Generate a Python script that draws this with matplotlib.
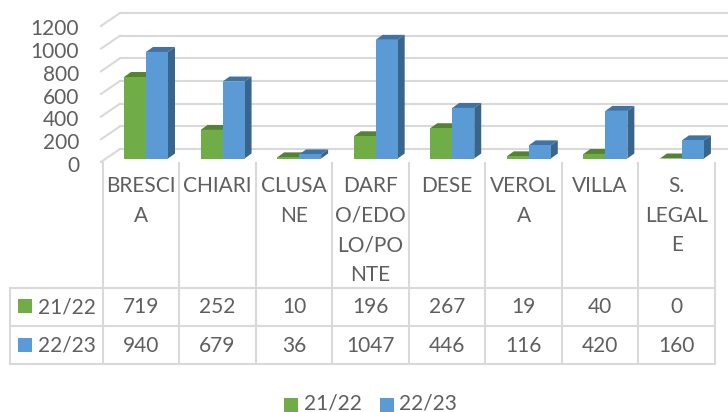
import matplotlib
matplotlib.use("Agg")
import matplotlib.pyplot as plt
from matplotlib.patches import Polygon, Rectangle

plt.rcParams['font.family'] = ['Lato', 'DejaVu Sans']

# data
categories = ["BRESCI\nA", "CHIARI", "CLUSA\nNE", "DARF\nO/EDO\nLO/PO\nNTE", "DESE", "VEROL\nA", "VILLA", "S.\nLEGAL\nE"]
series_names = ["21/22", "22/23"]
values_2122 = [719, 252, 10, 196, 267, 19, 40, 0]
values_2223 = [940, 679, 36, 1047, 446, 116, 420, 160]
y_ticks = [0, 200, 400, 600, 800, 1000, 1200]

W, H = 728, 412
GREEN, GREEN_TOP = "#70AD47", "#558235"
BLUE, BLUE_TOP, BLUE_SIDE = "#5B9BD5", "#3F73A3", "#38658C"
GRID = "#D9D9D9"
TXT = "#5F5F5F"
FS = 15

fig = plt.figure(figsize=(W / 100, H / 100), dpi=100)

# bars axes: x in categories, y in values
left, right, base, top = 102.5, 715.0, 158.5, 22.5
ax = fig.add_axes([left / W, 1 - base / H, (right - left) / W, (base - top) / H])
ax.set_xlim(0, len(categories))
ax.set_ylim(0, 1200)
ax.axis("off")

px_x = len(categories) / (right - left)
px_y = 1200 / (base - top)
bar_w = 22 * px_x
dx, dy = 7 * px_x, 5 * px_y

# back wall lines and the diagonal floor ticks
for v in y_ticks:
    yb = v + 9.5 * px_y
    yf = yb - 13 * px_y
    xb = 17.5 * px_x
    ax.plot([xb, (W - left) * px_x], [yb, yb], color=GRID, lw=1.5, clip_on=False, zorder=1)
    ax.plot([-1.5 * px_x, xb], [yf, yb], color=GRID, lw=1.5, clip_on=False, zorder=1)
    ax.text(-23.5 * px_x, v - 7 * px_y, str(v), ha="right", va="center", color=TXT, fontsize=FS, clip_on=False)


def draw_bar(x, v, front, top_col, side_col):
    ax.add_patch(Polygon([(x, v), (x + dx, v + dy), (x + bar_w + dx, v + dy), (x + bar_w, v)],
                         closed=True, fc=top_col, ec="none", clip_on=False, zorder=3))
    ax.add_patch(Polygon([(x + bar_w, 0), (x + bar_w + dx, dy), (x + bar_w + dx, v + dy), (x + bar_w, v)],
                         closed=True, fc=side_col, ec="none", clip_on=False, zorder=3))
    ax.bar(x, v, width=bar_w, align="edge", color=front, edgecolor="none", zorder=4, clip_on=False)


offset = 0.568
for i in range(len(categories)):
    draw_bar(i + offset - bar_w, values_2122[i], GREEN, GREEN_TOP, GREEN_TOP)
    draw_bar(i + offset, values_2223[i], BLUE, BLUE_TOP, BLUE_SIDE)

# overlay in pixels for the data table and legend
ov = fig.add_axes([0, 0, 1, 1])
ov.set_xlim(0, W)
ov.set_ylim(H, 0)
ov.axis("off")
ov.patch.set_alpha(0)

col_x = [left + (right - left) * i / len(categories) for i in range(len(categories) + 1)]
row_y = [287.5, 325.8, 364.2]
for x in col_x:
    ov.plot([x, x], [163, row_y[-1]], color=GRID, lw=1.5)
ov.plot([10, 10], [row_y[0], row_y[-1]], color=GRID, lw=1.5)
for y in row_y:
    ov.plot([10, right], [y, y], color=GRID, lw=1.5)

for i, name in enumerate(categories):
    cx = (col_x[i] + col_x[i + 1]) / 2
    for k, line in enumerate(name.split("\n")):
        ov.text(cx, 186 + 29.7 * k, line, ha="center", va="center", color=TXT, fontsize=FS)

for r, (name, vals, col) in enumerate(zip(series_names, [values_2122, values_2223], [GREEN, BLUE])):
    cy = (row_y[r] + row_y[r + 1]) / 2
    ov.add_patch(Rectangle((18, cy - 7.5), 14, 14, fc=col, ec="none"))
    ov.text(38, cy + 0.5, name, ha="left", va="center", color=TXT, fontsize=FS)
    for i, v in enumerate(vals):
        ov.text((col_x[i] + col_x[i + 1]) / 2, cy + 0.5, str(v), ha="center", va="center", color=TXT, fontsize=FS)

# legend at the bottom
for x0, name, col in zip([284, 379.5], series_names, [GREEN, BLUE]):
    ov.add_patch(Rectangle((x0, 398), 14, 14, fc=col, ec="none"))
    ov.text(x0 + 20, 403, name, ha="left", va="center", color=TXT, fontsize=FS)

fig.savefig("out.png", dpi=100)
